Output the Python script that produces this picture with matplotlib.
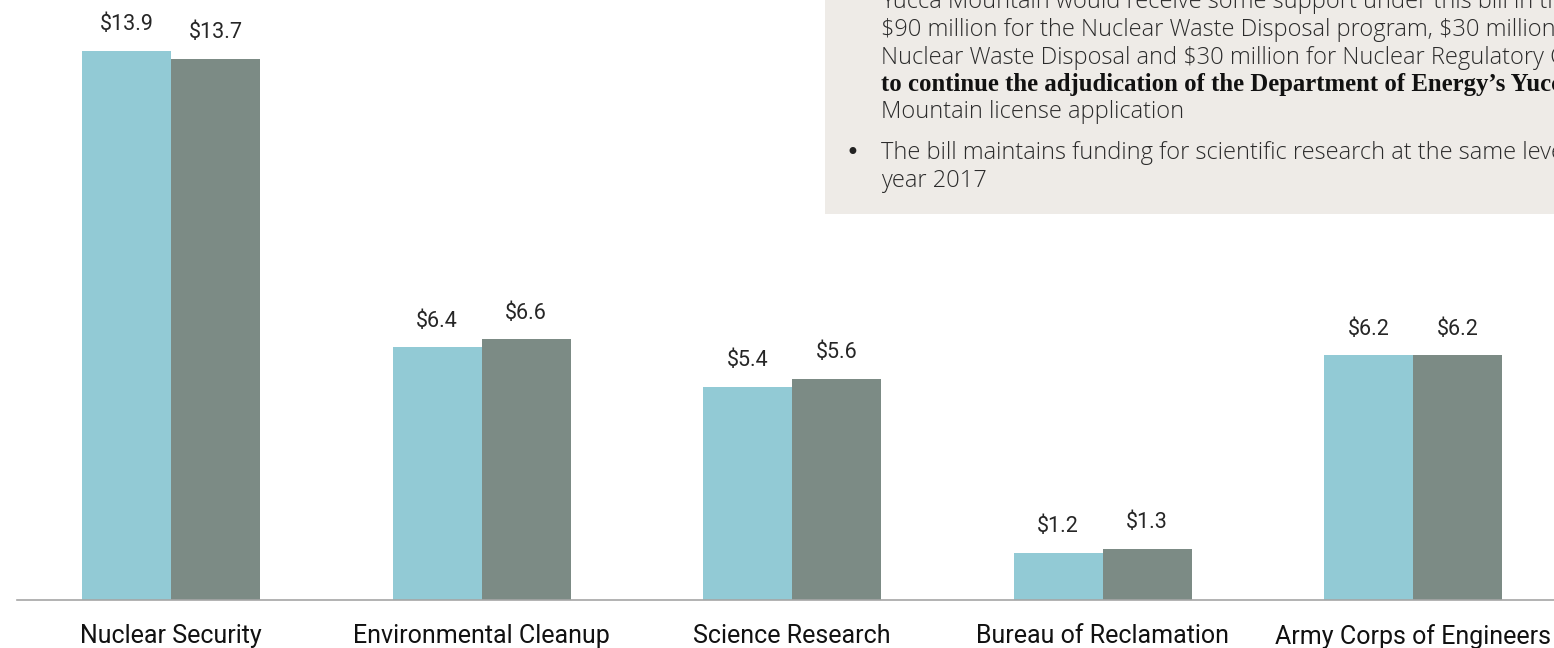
import numpy as np
import matplotlib
matplotlib.use("Agg")
import matplotlib.pyplot as plt
from matplotlib.patches import Rectangle

# Data (billions of dollars)
categories = ['Nuclear Security', 'Environmental Cleanup', 'Science Research',
              'Bureau of Reclamation', 'Army Corps of Engineers']
fy2017 = [13.9, 6.4, 5.4, 1.2, 6.2]
fy2018 = [13.7, 6.6, 5.6, 1.3, 6.2]

# note box text (the box runs past the right edge of the slide, so lines are cut)
note_lines = [
    r'Yucca Mountain would receive some support under this bill in the form of',
    r'\$90 million for the Nuclear Waste Disposal program, \$30 million for Defense',
    r'Nuclear Waste Disposal and \$30 million for Nuclear Regulatory Commission',
]
note_bold = "to continue the adjudication of the Department of Energy\u2019s Yucca"
note_tail = 'Mountain license application'
note_bullet2 = ['The bill maintains funding for scientific research at the same level as fiscal',
                'year 2017']

color_a = '#92CAD5'
color_b = '#7C8B85'
label_font = ['Liberation Sans Narrow', 'Roboto', 'DejaVu Sans']

W, H = 1554, 648
fig = plt.figure(figsize=(W / 100, H / 100), dpi=100)
ax = fig.add_axes([17 / W, 48 / H, 1537 / W, 600 / H])

x = np.arange(len(categories))
w = 0.2866
ax.bar(x - w / 2, fy2017, width=w, color=color_a, zorder=2)
ax.bar(x + w / 2, fy2018, width=w, color=color_b, zorder=2)

for xi, a, b in zip(x, fy2017, fy2018):
    ax.text(xi - w / 2, a + 0.66, f'\\${a:.1f}', ha='center', va='center',
            fontsize=15.5, color='#262626', family=label_font)
    ax.text(xi + w / 2, b + 0.66, f'\\${b:.1f}', ha='center', va='center',
            fontsize=15.5, color='#262626', family=label_font)

ax.set_xlim(-0.496, 4.454)
ax.set_ylim(0, 600 / 39.5)
ax.set_xticks(x)
ax.set_xticklabels(categories, fontsize=18, color='#111111', family=label_font)
ax.tick_params(axis='x', length=0, pad=17)
ax.set_yticks([])
for s in ['top', 'right', 'left']:
    ax.spines[s].set_visible(False)
ax.spines['bottom'].set_color('#A6A6A6')
ax.spines['bottom'].set_linewidth(1.2)

# Note box in the upper right (cropped by the figure edge)
box = Rectangle((825 / W, 1 - 214 / H), 1 - 825 / W, 214 / H + 0.01,
                transform=fig.transFigure, facecolor='#EEEBE7', edgecolor='none', zorder=3)
fig.patches.append(box)

light = dict(fontsize=17, color='#2b2b2b', family=['Open Sans', 'Lato', 'DejaVu Sans'],
             fontweight='light', va='center', ha='left', zorder=4)
tx = 881 / W
ys = [2, 30, 58]
for yy, line in zip(ys, note_lines):
    fig.text(tx, 1 - yy / H, line, **light)
fig.text(tx, 1 - 85 / H, note_bold, fontsize=17.8, color='#111111', fontweight='bold',
         family=['Liberation Serif', 'DejaVu Serif'], va='center', ha='left', zorder=4)
fig.text(tx, 1 - 112 / H, note_tail, **light)
fig.text(852 / W, 1 - 153 / H, '\u2022', fontsize=17, color='#222222',
         family=['DejaVu Sans'], va='center', ha='center', zorder=4)
fig.text(tx, 1 - 153 / H, note_bullet2[0], **light)
fig.text(tx, 1 - 181 / H, note_bullet2[1], **light)

fig.savefig('out.png', dpi=100)
